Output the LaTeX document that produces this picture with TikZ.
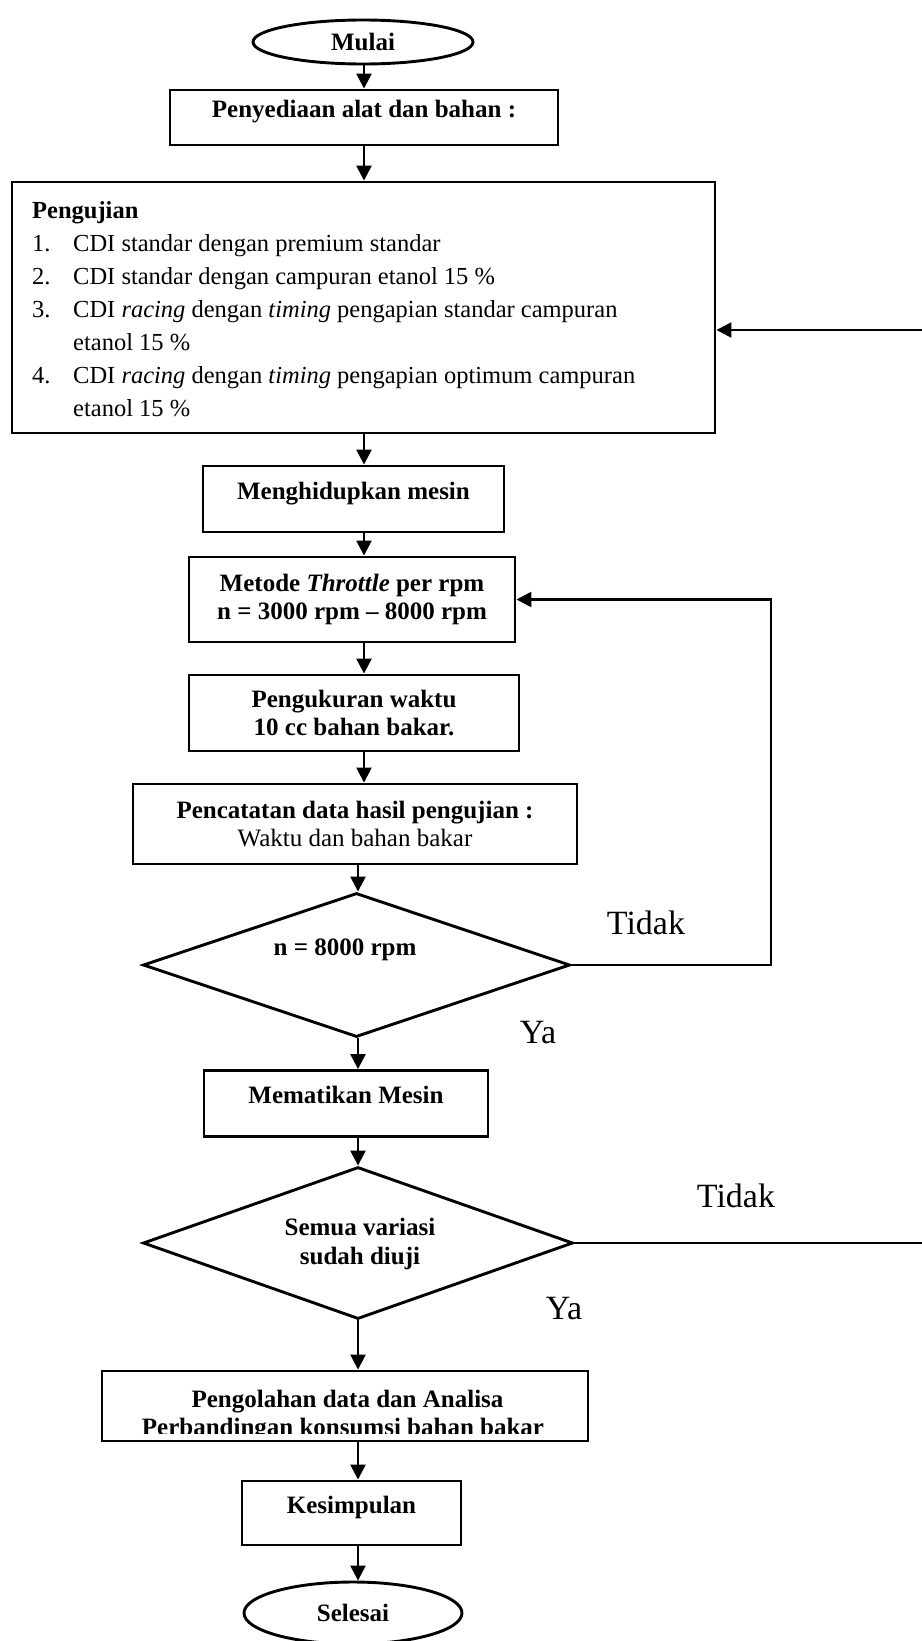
\documentclass[tikz,border=0pt]{standalone}
\usepackage{fontspec}
\setmainfont{Liberation Serif}
\usetikzlibrary{shapes.geometric,arrows.meta}
\begin{document}
\begin{tikzpicture}[x=1pt,y=-1pt,
  box/.style={draw,line width=2.9pt,rectangle,inner sep=0pt,align=center,
    font=\fontsize{25}{28.5}\selectfont\bfseries},
  one/.style={text height=17pt,text depth=17pt},
  term/.style={draw,line width=2.9pt,ellipse,inner sep=0pt,
    font=\fontsize{25}{28.5}\selectfont\bfseries},
  dec/.style={draw,line width=2.9pt,diamond,inner sep=0pt,aspect=3},
  dtext/.style={inner sep=0pt,align=center,font=\fontsize{25}{28.5}\selectfont\bfseries},
  lbl/.style={font=\fontsize{34}{40}\selectfont,inner sep=0pt},
  arr/.style={line width=2.5pt,-{Triangle[length=15pt,width=15pt]}},
  conn/.style={line width=2.5pt}]
\useasboundingbox (0,0) rectangle (921,1641);
\fill[white] (0,0) rectangle (921,1641);

% columns for the vertical connectors
\coordinate (colA) at (364,0);
\coordinate (colB) at (358,0);

% nodes
\node[term,minimum width=220pt,minimum height=44pt] (start) at (363,42) {Mulai};
\node[box,one,minimum width=388pt,minimum height=55pt] (prep) at (364,117.5) {Penyediaan alat dan bahan :};
\node[box,minimum width=703pt,minimum height=251pt] (test) at (363.5,307.5) {};
\node[anchor=north west,inner sep=0pt,align=left,font=\fontsize{24.5}{33}\selectfont] (testtxt) at (32,201)
  {\textbf{Pengujian}\\
   \makebox[41pt][l]{1.}CDI standar dengan premium standar\\
   \makebox[41pt][l]{2.}CDI standar dengan campuran etanol 15 \%\\
   \makebox[41pt][l]{3.}CDI \textit{racing} dengan \textit{timing} pengapian standar campuran\\
   \hspace*{41pt}etanol 15 \%\\
   \makebox[41pt][l]{4.}CDI \textit{racing} dengan \textit{timing} pengapian optimum campuran\\
   \hspace*{41pt}etanol 15 \%};
\node[box,one,minimum width=301pt,minimum height=66pt] (on) at (353.5,499) {Menghidupkan mesin};
\node[box,minimum width=326pt,minimum height=85pt] (meth) at (352,599.5) {Metode \textit{Throttle} per rpm\\n = 3000 rpm -- 8000 rpm};
\node[box,minimum width=330pt,minimum height=76pt] (meas) at (354,713) {Pengukuran waktu\\10 cc bahan bakar.};
\node[box,minimum width=444pt,minimum height=80pt] (rec) at (355,824) {Pencatatan data hasil pengujian :\\\mdseries Waktu dan bahan bakar};
\node[dec,minimum width=427pt,minimum height=144pt] (d1) at (356.5,965) {};
\node[dtext] (d1t) at (345,950) {n = 8000 rpm};
\node[box,one,minimum width=284pt,minimum height=66pt] (off) at (346,1103.5) {Mematikan Mesin};
\node[dec,minimum width=430pt,minimum height=152pt] (d2) at (358,1243) {};
\node[dtext] (d2t) at (360,1244) {Semua variasi\\sudah diuji};
\node[box,minimum width=486pt,minimum height=70pt] (proc) at (345,1406) {};
\begin{scope}
  \clip ([xshift=1.5pt,yshift=-1.5pt]proc.north west) rectangle ([xshift=-1.5pt,yshift=9pt]proc.south east);
  \node[dtext,anchor=base] (proct1) at (347.5,1407) {Pengolahan data dan Analisa};
  \node[dtext,anchor=base] (proct2) at (343,1435) {Perbandingan konsumsi bahan bakar};
\end{scope}
\node[box,one,minimum width=219pt,minimum height=64pt] (concl) at (351.5,1513) {Kesimpulan};
\node[term,minimum width=218pt,minimum height=62pt] (end) at (353,1613) {Selesai};

% labels
\node[lbl] (t1) at (646,923) {Tidak};
\node[lbl] (y1) at (538,1033) {Ya};
\node[lbl] (t2) at (736,1196) {Tidak};
\node[lbl] (y2) at (564,1309) {Ya};

% vertical connectors
\draw[arr] (start.south -| colA) -- (prep.north -| colA);
\draw[arr] (prep.south -| colA) -- (test.north -| colA);
\draw[arr] (test.south -| colA) -- (on.north -| colA);
\draw[arr] (on.south -| colA) -- (meth.north -| colA);
\draw[arr] (meth.south -| colA) -- (meas.north -| colA);
\draw[arr] (meas.south -| colA) -- (rec.north -| colA);
\draw[arr] (rec.south -| colB) -- (d1.north -| colB);
\draw[arr] (d1.south -| colB) -- (off.north -| colB);
\draw[arr] (off.south -| colB) -- (d2.north -| colB);
\draw[arr] (d2.south -| colB) -- (proc.north -| colB);
\draw[arr] (proc.south -| colB) -- (concl.north -| colB);
\draw[arr] (concl.south -| colB) -- (end.north -| colB);

% loops
\coordinate (loopx) at (771,0);
\draw[arr] (d1.east) -| (loopx |- meth.east) -- (meth.east);
\coordinate (out2) at (925,1243);
\draw[conn] (d2.east) -- (out2);
\coordinate (in2) at (925,330);
\draw[arr] (in2) -- (in2 -| test.east);
\end{tikzpicture}
\end{document}
